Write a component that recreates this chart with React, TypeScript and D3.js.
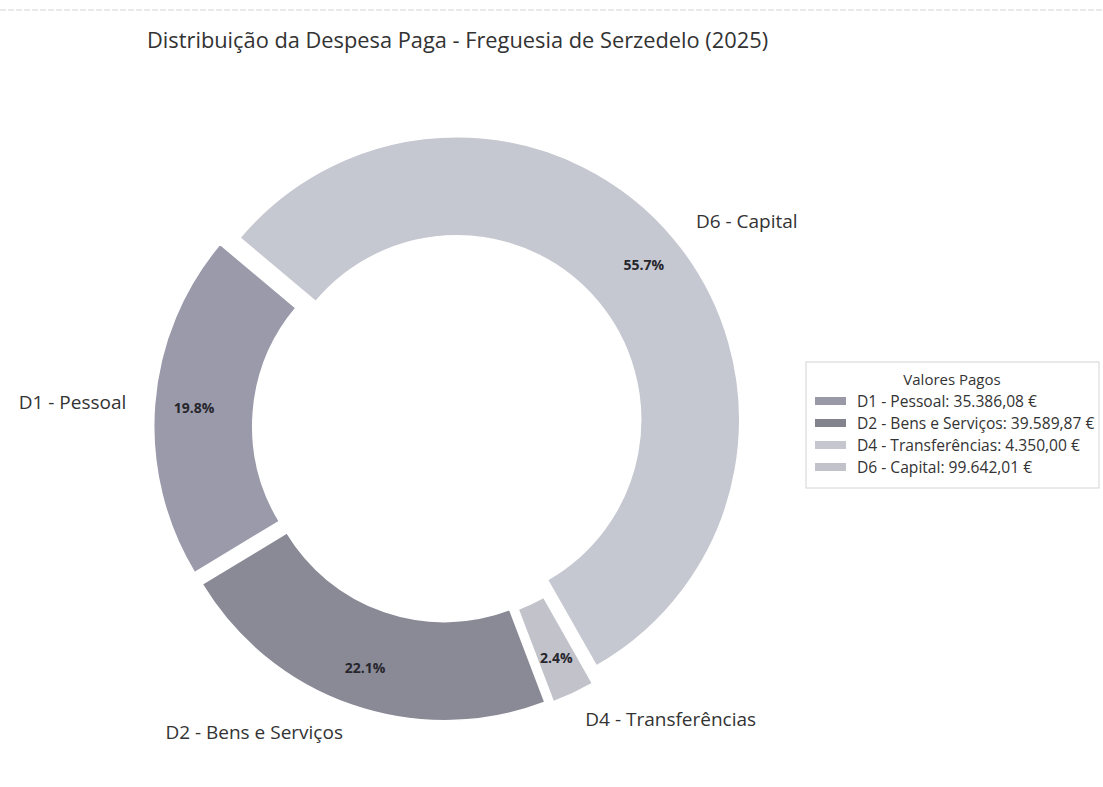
import React from "react";
import * as d3 from "d3";

const categories = ["D1 - Pessoal", "D2 - Bens e Serviços", "D4 - Transferências", "D6 - Capital"];
const values = [35386.08, 39589.87, 4350.0, 99642.01];
const legendValues = ["35.386,08 €", "39.589,87 €", "4.350,00 €", "99.642,01 €"];
const colors = ["#9b9aab", "#8a8a97", "#c1c2ca", "#c6c8d1"];
const legendColors = ["#9a99a8", "#83838e", "#c6c7ce", "#c1c2ca"];
const title = "Distribuição da Despesa Paga - Freguesia de Serzedelo (2025)";
const legendTitle = "Valores Pagos";

const W = 1103;
const H = 787;
const cx = 448;
const cy = 427;
const R = 283;
const inner = R * 0.65;
const explode = 0.04 * R;
const font = "'Open Sans', 'Noto Sans', sans-serif";

export default function App() {
  const startDeg = -50;
  const pie = d3
    .pie<number>()
    .sort(null)
    .value((d) => d)
    .startAngle((startDeg * Math.PI) / 180)
    .endAngle(((startDeg - 360) * Math.PI) / 180);
  const arcs = pie(values);
  const total = d3.sum(values);
  const arcGen = d3.arc<any>().innerRadius(inner).outerRadius(R);

  return (
    <div style={{ position: "absolute", left: 0, top: 0 }}>
      <svg width={W} height={H} style={{ display: "block", background: "#fff" }}>
        <line x1={0} x2={W} y1={10} y2={10} stroke="#e2e2e2" strokeWidth={1.5} strokeDasharray="6 2" />
        <text x={147} y={48} fontFamily={font} fontSize={21.8} fill="#333">
          {title}
        </text>
        {arcs.map((a, i) => {
          const mid = (a.startAngle + a.endAngle) / 2;
          const ux = Math.sin(mid);
          const uy = -Math.cos(mid);
          const ox = cx + explode * ux;
          const oy = cy + explode * uy;
          const pr = 0.86 * R;
          const lr = 1.1 * R;
          const lx = ox + lr * ux;
          const ly = oy + lr * uy;
          const pct = ((values[i] / total) * 100).toFixed(1) + "%";
          return (
            <g key={i}>
              <path
                d={arcGen(a) as string}
                transform={`translate(${ox},${oy})`}
                fill={colors[i]}
                stroke="#fff"
                strokeWidth={1.5}
              />
              <text
                x={ox + pr * ux}
                y={oy + pr * uy}
                textAnchor="middle"
                dominantBaseline="central"
                fontFamily={font}
                fontWeight={700}
                fontSize={14}
                fill="#26262c"
              >
                {pct}
              </text>
              <text
                x={lx}
                y={ly}
                textAnchor={ux > 0 ? "start" : "end"}
                dominantBaseline="central"
                fontFamily={font}
                fontSize={19}
                fill="#333"
              >
                {categories[i]}
              </text>
            </g>
          );
        })}
        <g>
          <rect x={806} y={362} width={293} height={126} fill="#fff" stroke="#d4d4d4" strokeWidth={1} />
          <text x={952} y={379} textAnchor="middle" dominantBaseline="central" fontFamily={font} fontSize={15} fill="#333">
            {legendTitle}
          </text>
          {categories.map((c, i) => (
            <g key={c}>
              <rect x={815} y={397 + i * 22} width={31} height={8} fill={legendColors[i]} />
              <text x={857} y={401 + i * 22} dominantBaseline="central" fontFamily={font} fontSize={15.6} fill="#333">
                {c + ": " + legendValues[i]}
              </text>
            </g>
          ))}
        </g>
      </svg>
    </div>
  );
}
